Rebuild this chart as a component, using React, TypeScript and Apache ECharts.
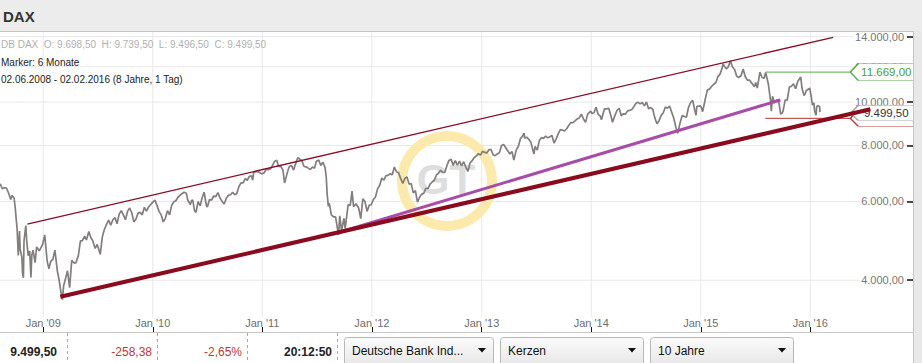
import React, { useEffect, useRef } from 'react';
import * as echarts from 'echarts';

// ---------- axis ranges ----------
const X_MIN = '2008-08-10';
const X_MAX = '2016-12-08';
const Y_TOP = 14343;
const Y_BOTTOM = 3311;
const Y_TICKS = [4000, 6000, 8000, 10000, 12000, 14000];
const YEAR_TICKS = ['2009-01-01', '2010-01-01', '2011-01-01', '2012-01-01', '2013-01-01', '2014-01-01', '2015-01-01', '2016-01-01'];

// ---------- DAX price ----------
const DAX_2008: [string, number][] = [
  ['2008-08-01', 6480], ['2008-08-11', 6560], ['2008-08-18', 6400], ['2008-08-25', 6440], ['2008-09-01', 6420],
  ['2008-09-08', 6250], ['2008-09-15', 6060], ['2008-09-19', 6190], ['2008-09-26', 6100], ['2008-09-30', 5780],
  ['2008-10-06', 5200], ['2008-10-10', 4544], ['2008-10-14', 5150], ['2008-10-16', 4700], ['2008-10-22', 4500],
  ['2008-10-24', 4150], ['2008-10-27', 4050], ['2008-10-29', 4900], ['2008-11-04', 5300], ['2008-11-07', 4900],
  ['2008-11-12', 4540], ['2008-11-17', 4650], ['2008-11-21', 4060], ['2008-11-24', 4550], ['2008-11-28', 4670],
  ['2008-12-05', 4380], ['2008-12-10', 4750], ['2008-12-19', 4650], ['2008-12-30', 4810],
];
const DAX_2009: [string, number][] = [
  ['2009-01-06', 5050], ['2009-01-14', 4420], ['2009-01-20', 4240], ['2009-01-26', 4410], ['2009-02-02', 4450],
  ['2009-02-09', 4670], ['2009-02-17', 4200], ['2009-02-23', 4000], ['2009-03-02', 3730], ['2009-03-06', 3620],
  ['2009-03-10', 3890], ['2009-03-17', 4050], ['2009-03-23', 4200], ['2009-03-30', 3850], ['2009-04-06', 4430],
  ['2009-04-14', 4370], ['2009-04-20', 4380], ['2009-04-28', 4540], ['2009-05-05', 4900], ['2009-05-11', 4900],
  ['2009-05-19', 5020], ['2009-05-25', 4920], ['2009-06-02', 5140], ['2009-06-08', 4990], ['2009-06-15', 4900],
  ['2009-06-23', 4710], ['2009-06-30', 4810], ['2009-07-10', 4570], ['2009-07-17', 5000], ['2009-07-24', 5200],
  ['2009-07-31', 5330], ['2009-08-07', 5450], ['2009-08-14', 5310], ['2009-08-21', 5460], ['2009-08-28', 5520],
  ['2009-09-04', 5350], ['2009-09-11', 5620], ['2009-09-18', 5720], ['2009-09-25', 5600], ['2009-10-02', 5460],
  ['2009-10-09', 5700], ['2009-10-16', 5800], ['2009-10-23', 5660], ['2009-10-30', 5400], ['2009-11-06', 5480],
  ['2009-11-13', 5650], ['2009-11-20', 5670], ['2009-11-27', 5600], ['2009-12-04', 5820], ['2009-12-11', 5710],
  ['2009-12-18', 5830], ['2009-12-30', 5957],
];
const DAX_2010: [string, number][] = [
  ['2010-01-08', 6040], ['2010-01-15', 5880], ['2010-01-22', 5700], ['2010-01-29', 5600], ['2010-02-05', 5400],
  ['2010-02-12', 5500], ['2010-02-19', 5720], ['2010-02-26', 5600], ['2010-03-05', 5880], ['2010-03-12', 5990],
  ['2010-03-19', 6020], ['2010-03-26', 6130], ['2010-04-09', 6250], ['2010-04-15', 6290], ['2010-04-23', 6260],
  ['2010-04-27', 6060], ['2010-05-06', 5900], ['2010-05-10', 6020], ['2010-05-14', 6050], ['2010-05-20', 5730],
  ['2010-05-25', 5670], ['2010-06-01', 5990], ['2010-06-08', 5870], ['2010-06-14', 6100], ['2010-06-21', 6290],
  ['2010-06-29', 5860], ['2010-07-02', 5830], ['2010-07-09', 6060], ['2010-07-16', 6040], ['2010-07-23', 6170],
  ['2010-07-30', 6150], ['2010-08-06', 6280], ['2010-08-13', 6110], ['2010-08-20', 6000], ['2010-08-27', 5920],
  ['2010-09-03', 6100], ['2010-09-10', 6190], ['2010-09-17', 6210], ['2010-09-24', 6290], ['2010-10-01', 6210],
  ['2010-10-08', 6250], ['2010-10-15', 6480], ['2010-10-22', 6600], ['2010-10-29', 6600], ['2010-11-05', 6750],
  ['2010-11-12', 6690], ['2010-11-19', 6830], ['2010-11-26', 6840], ['2010-11-30', 6690], ['2010-12-03', 6950],
  ['2010-12-10', 6990], ['2010-12-17', 7000], ['2010-12-30', 6914],
];
const DAX_2011: [string, number][] = [
  ['2011-01-07', 6950], ['2011-01-14', 7080], ['2011-01-21', 7060], ['2011-01-28', 7100], ['2011-02-04', 7220],
  ['2011-02-11', 7370], ['2011-02-18', 7420], ['2011-02-24', 7180], ['2011-03-04', 7180], ['2011-03-11', 7040],
  ['2011-03-16', 6600], ['2011-03-18', 6660], ['2011-03-25', 6950], ['2011-04-01', 7180], ['2011-04-08', 7220],
  ['2011-04-15', 7050], ['2011-04-21', 7250], ['2011-04-29', 7510], ['2011-05-06', 7460], ['2011-05-13', 7390],
  ['2011-05-20', 7180], ['2011-05-27', 7170], ['2011-06-03', 7120], ['2011-06-10', 7070], ['2011-06-17', 7160],
  ['2011-06-24', 7120], ['2011-06-30', 7380], ['2011-07-08', 7420], ['2011-07-15', 7220], ['2011-07-22', 7340],
  ['2011-07-29', 7150], ['2011-08-02', 6800], ['2011-08-05', 6240], ['2011-08-09', 5850], ['2011-08-12', 5950],
  ['2011-08-19', 5600], ['2011-08-26', 5540], ['2011-09-02', 5540], ['2011-09-09', 5190], ['2011-09-12', 5050],
  ['2011-09-16', 5570], ['2011-09-22', 5160], ['2011-09-30', 5500], ['2011-10-04', 5220], ['2011-10-14', 5900],
  ['2011-10-21', 5880], ['2011-10-27', 6330], ['2011-11-01', 5840], ['2011-11-09', 5930], ['2011-11-18', 5800],
  ['2011-11-25', 5490], ['2011-12-02', 6080], ['2011-12-09', 6000], ['2011-12-16', 5700], ['2011-12-23', 5880],
  ['2011-12-30', 5898],
];
const DAX_2012: [string, number][] = [
  ['2012-01-06', 6060], ['2012-01-13', 6140], ['2012-01-20', 6400], ['2012-01-27', 6510], ['2012-02-03', 6770],
  ['2012-02-10', 6690], ['2012-02-17', 6850], ['2012-02-24', 6860], ['2012-03-02', 6920], ['2012-03-09', 6880],
  ['2012-03-16', 7160], ['2012-03-23', 6990], ['2012-03-30', 6950], ['2012-04-05', 6780], ['2012-04-13', 6580],
  ['2012-04-20', 6760], ['2012-04-27', 6800], ['2012-05-04', 6560], ['2012-05-11', 6580], ['2012-05-18', 6270],
  ['2012-05-25', 6340], ['2012-06-01', 5980], ['2012-06-08', 6130], ['2012-06-15', 6230], ['2012-06-22', 6260],
  ['2012-06-29', 6420], ['2012-07-06', 6410], ['2012-07-13', 6560], ['2012-07-20', 6630], ['2012-07-27', 6690],
  ['2012-08-03', 6870], ['2012-08-10', 6940], ['2012-08-17', 7040], ['2012-08-24', 6970], ['2012-08-31', 6970],
  ['2012-09-07', 7210], ['2012-09-14', 7410], ['2012-09-21', 7450], ['2012-09-28', 7220], ['2012-10-05', 7400],
  ['2012-10-12', 7230], ['2012-10-19', 7380], ['2012-10-26', 7200], ['2012-11-02', 7360], ['2012-11-09', 7160],
  ['2012-11-16', 7000], ['2012-11-23', 7310], ['2012-11-30', 7400], ['2012-12-07', 7520], ['2012-12-14', 7580],
  ['2012-12-21', 7670], ['2012-12-28', 7612],
];
const DAX_2013: [string, number][] = [
  ['2013-01-04', 7770], ['2013-01-11', 7720], ['2013-01-18', 7700], ['2013-01-25', 7830], ['2013-02-01', 7830],
  ['2013-02-08', 7630], ['2013-02-15', 7590], ['2013-02-22', 7660], ['2013-03-01', 7710], ['2013-03-08', 8000],
  ['2013-03-15', 8040], ['2013-03-22', 7910], ['2013-03-28', 7800], ['2013-04-05', 7660], ['2013-04-12', 7750],
  ['2013-04-18', 7420], ['2013-04-26', 7810], ['2013-05-03', 7960], ['2013-05-10', 8280], ['2013-05-17', 8400],
  ['2013-05-22', 8530], ['2013-05-24', 8310], ['2013-05-31', 8350], ['2013-06-07', 8250], ['2013-06-14', 8130],
  ['2013-06-21', 7790], ['2013-06-24', 7660], ['2013-06-28', 7960], ['2013-07-05', 7810], ['2013-07-12', 8210],
  ['2013-07-19', 8330], ['2013-07-26', 8300], ['2013-08-02', 8400], ['2013-08-09', 8320], ['2013-08-16', 8370],
  ['2013-08-23', 8420], ['2013-08-30', 8100], ['2013-09-06', 8280], ['2013-09-13', 8500], ['2013-09-20', 8680],
  ['2013-09-27', 8660], ['2013-10-04', 8620], ['2013-10-11', 8720], ['2013-10-18', 8870], ['2013-10-25', 9000],
  ['2013-11-01', 9000], ['2013-11-08', 9080], ['2013-11-15', 9170], ['2013-11-22', 9220], ['2013-11-29', 9400],
  ['2013-12-06', 9170], ['2013-12-13', 9010], ['2013-12-20', 9400], ['2013-12-30', 9552],
];
const DAX_2014: [string, number][] = [
  ['2014-01-03', 9430], ['2014-01-10', 9470], ['2014-01-17', 9740], ['2014-01-24', 9390], ['2014-01-31', 9310],
  ['2014-02-04', 9130], ['2014-02-07', 9290], ['2014-02-14', 9660], ['2014-02-21', 9660], ['2014-02-28', 9690],
  ['2014-03-07', 9350], ['2014-03-13', 9020], ['2014-03-14', 9060], ['2014-03-21', 9340], ['2014-03-28', 9590],
  ['2014-04-04', 9690], ['2014-04-11', 9320], ['2014-04-17', 9410], ['2014-04-25', 9400], ['2014-05-02', 9560],
  ['2014-05-09', 9580], ['2014-05-16', 9630], ['2014-05-23', 9770], ['2014-05-30', 9940], ['2014-06-06', 9990],
  ['2014-06-13', 9910], ['2014-06-20', 9990], ['2014-06-27', 9810], ['2014-07-04', 10010], ['2014-07-11', 9670],
  ['2014-07-18', 9720], ['2014-07-25', 9640], ['2014-08-01', 9210], ['2014-08-08', 8950], ['2014-08-15', 9090],
  ['2014-08-22', 9340], ['2014-08-29', 9470], ['2014-09-05', 9750], ['2014-09-12', 9690], ['2014-09-19', 9800],
  ['2014-09-26', 9490], ['2014-10-03', 9200], ['2014-10-10', 8790], ['2014-10-16', 8520], ['2014-10-24', 8990],
  ['2014-10-31', 9330], ['2014-11-07', 9290], ['2014-11-14', 9250], ['2014-11-21', 9730], ['2014-11-28', 9980],
  ['2014-12-05', 10090], ['2014-12-12', 9590], ['2014-12-16', 9340], ['2014-12-19', 9790], ['2014-12-30', 9806],
];
const DAX_2015: [string, number][] = [
  ['2015-01-02', 9760], ['2015-01-07', 9520], ['2015-01-09', 9650], ['2015-01-16', 10170], ['2015-01-23', 10650],
  ['2015-01-30', 10690], ['2015-02-06', 10850], ['2015-02-13', 10960], ['2015-02-20', 11050], ['2015-02-27', 11400],
  ['2015-03-06', 11550], ['2015-03-13', 11900], ['2015-03-16', 12170], ['2015-03-20', 12040], ['2015-03-27', 11870],
  ['2015-04-02', 11970], ['2015-04-10', 12370], ['2015-04-16', 11990], ['2015-04-24', 11810], ['2015-04-30', 11450],
  ['2015-05-07', 11350], ['2015-05-15', 11450], ['2015-05-22', 11860], ['2015-05-29', 11410], ['2015-06-05', 11200],
  ['2015-06-12', 11200], ['2015-06-19', 11040], ['2015-06-29', 10830], ['2015-07-03', 11060], ['2015-07-08', 10750],
  ['2015-07-17', 11670], ['2015-07-24', 11350], ['2015-07-31', 11310], ['2015-08-05', 11650], ['2015-08-14', 10980],
  ['2015-08-21', 10120], ['2015-08-24', 9550], ['2015-08-28', 10300], ['2015-09-04', 9960], ['2015-09-11', 10120],
  ['2015-09-18', 10000], ['2015-09-24', 9400], ['2015-09-29', 9450], ['2015-10-02', 9550], ['2015-10-09', 10100],
  ['2015-10-16', 10100], ['2015-10-23', 10800], ['2015-10-30', 10850], ['2015-11-06', 10990], ['2015-11-13', 10710],
  ['2015-11-20', 11120], ['2015-11-30', 11380], ['2015-12-04', 10750], ['2015-12-11', 10340], ['2015-12-15', 10450],
  ['2015-12-18', 10600], ['2015-12-30', 10743],
];
const DAX_2016: [string, number][] = [
  ['2016-01-04', 10280], ['2016-01-08', 9850], ['2016-01-13', 9960], ['2016-01-15', 9550], ['2016-01-20', 9350],
  ['2016-01-22', 9760], ['2016-01-26', 9820], ['2016-01-29', 9800], ['2016-02-01', 9760], ['2016-02-02', 9499.5],
];

// ---------- drawn trend lines & levels ----------
const UPPER_CHANNEL: [string, number][] = [['2008-11-09', 5340], ['2016-03-17', 13960]];
const LOWER_CHANNEL: [string, number][] = [['2009-02-27', 3675], ['2016-07-19', 9640]];
const PURPLE_TREND: [string, number][] = [['2011-08-26', 5075], ['2015-09-23', 10110]];
const LEVEL_START = '2015-08-04';
const TAG_DATE = '2016-05-13';
const RESISTANCE = 11669;
const SUPPORT = 9200;
const LAST_PRICE = 9499.5;

// ---------- info texts ----------
const INFO_OHLC = 'DB DAX  O: 9.698,50  H: 9.739,50  L: 9.496,50  C: 9.499,50';
const INFO_MARKER = 'Marker: 6 Monate';
const INFO_RANGE = '02.06.2008 - 02.02.2016 (8 Jahre, 1 Tag)';
const FOOT_VALUES = ['9.499,50', '-258,38', '-2,65%', '20:12:50'];
const BUTTONS = ['Deutsche Bank Ind...', 'Kerzen', '10 Jahre'];

const L = (v: number) => Math.log10(v);
const T = (s: string) => Date.parse(s + 'T00:00:00Z');
const fmtDE = (v: number) => {
  const [i, d] = v.toFixed(2).split('.');
  return i.replace(/\B(?=(\d{3})+(?!\d))/g, '.') + ',' + d;
};
const toXY = (arr: [string, number][]) => arr.map(([d, v]) => [T(d), L(v)]);

const FONT = 'Arial, "Liberation Sans", sans-serif';
const TAG_PATH = 'path://M0 8 L8 0 L64 0 L64 16 L8 16 Z';

export default function App() {
  const ref = useRef<HTMLDivElement>(null);
  useEffect(() => {
    if (!ref.current) return;
    const chart = echarts.init(ref.current, undefined, { renderer: 'svg' });
    const price = [...DAX_2008, ...DAX_2009, ...DAX_2010, ...DAX_2011, ...DAX_2012, ...DAX_2013, ...DAX_2014, ...DAX_2015, ...DAX_2016];
    const xMin = T(X_MIN);
    const xMax = T(X_MAX);
    const yMin = L(Y_BOTTOM);
    const yMax = L(Y_TOP);
    const yearTicks = YEAR_TICKS.map(T);
    const yTicks = Y_TICKS.map(L);

    const gridSeries: any[] = [
      ...Y_TICKS.map((v) => ({
        type: 'line', z: 0, silent: true, symbol: 'none',
        data: [[xMin, L(v)], [xMax, L(v)]],
        lineStyle: { color: '#e8e8e8', width: 1 },
      })),
      ...yearTicks.map((t) => ({
        type: 'line', z: 0, silent: true, symbol: 'none',
        data: [[t, yMin], [t, yMax]],
        lineStyle: { color: '#e8e8e8', width: 1 },
      })),
    ];

    const tag = (date: string, value: number, text: string | null, border: string, color: string, z: number, h: number, dy: number) => ({
      type: 'scatter', z, silent: true,
      data: [[T(date), L(value)]],
      symbol: TAG_PATH, symbolSize: [64, h], symbolOffset: [32, dy],
      itemStyle: { color: '#fff', borderColor: border, borderWidth: 1, opacity: 1 },
      label: text
        ? { show: true, position: 'inside', offset: [4, 0], formatter: text, color, fontSize: 11.5, fontFamily: FONT }
        : { show: false },
    });

    const buttons: any[] = [];
    const btnX = [344.5, 500.5, 650.5];
    const btnW = [149, 143, 143];
    BUTTONS.forEach((b, i) => {
      buttons.push({
        type: 'rect', z: 100, shape: { x: btnX[i], y: 337.5, width: btnW[i], height: 32, r: 3 },
        style: {
          fill: new echarts.graphic.LinearGradient(0, 0, 0, 1, [{ offset: 0, color: '#fbfbfb' }, { offset: 1, color: '#e4e4e4' }]),
          stroke: '#b8b8b8', lineWidth: 1,
        },
      });
      buttons.push({
        type: 'text', z: 101, x: btnX[i] + 7.5, y: 351,
        style: { text: b, fill: '#111', font: `12px ${FONT}`, verticalAlign: 'middle', align: 'left' },
      });
      const ax = btnX[i] + btnW[i] - 11.5;
      buttons.push({
        type: 'polygon', z: 101, shape: { points: [[ax - 4, 348], [ax + 4, 348], [ax, 352.5]] }, style: { fill: '#111' },
      });
    });

    const footRight = [57, 152, 242, 332];
    const footColors = ['#222', '#b83a3a', '#b83a3a', '#222'];
    const footBold = [true, false, false, true];
    const foot: any[] = FOOT_VALUES.map((t, i) => ({
      type: 'text', z: 100, x: footRight[i], y: 352,
      style: { text: t, fill: footColors[i], font: `${footBold[i] ? 'bold ' : ''}12px ${FONT}`, align: 'right', verticalAlign: 'middle' },
    }));
    [67.5, 157.5, 247.5, 337.5].forEach((x) => {
      foot.push({ type: 'line', z: 100, shape: { x1: x, y1: 333, x2: x, y2: 363 }, style: { stroke: '#a8a8a8', lineWidth: 1, lineDash: [3, 3] } });
    });

    chart.setOption({
      animation: false,
      backgroundColor: '#fff',
      grid: { left: 0, right: 9, top: 32, bottom: 46 },
      xAxis: [
        {
          type: 'value', min: xMin, max: xMax,
          axisLine: { show: false }, axisTick: { show: false }, splitLine: { show: false },
          axisLabel: {
            customValues: yearTicks, margin: 0, color: '#6e6e6e', fontSize: 11, fontFamily: FONT,
            formatter: (v: number) => "Jan '" + String(new Date(v).getUTCFullYear()).slice(2),
          },
        },
        {
          type: 'value', min: xMin, max: xMax, position: 'bottom', offset: 15,
          axisLine: { show: false }, splitLine: { show: false }, axisLabel: { show: false },
          axisTick: { show: true, inside: true, length: 5, customValues: yearTicks, lineStyle: { color: '#111', width: 1 } },
        },
      ],
      yAxis: {
        type: 'value', min: yMin, max: yMax, position: 'right', z: 1,
        axisLine: { show: false }, splitLine: { show: false },
        axisTick: { show: true, inside: true, length: 6, customValues: yTicks, lineStyle: { color: '#111', width: 1.5 } },
        axisLabel: {
          inside: true, margin: 8, customValues: yTicks, color: '#777', fontSize: 11, fontFamily: FONT,
          backgroundColor: '#fff', padding: [0, 1],
          formatter: (v: number) => fmtDE(Math.round(Math.pow(10, v))),
        },
      },
      series: [
        ...gridSeries,
        {
          type: 'line', name: 'DAX', z: 2, symbol: 'none', data: toXY(price),
          lineStyle: { color: '#837e7d', width: 1.7 },
        },
        { type: 'line', z: 3, symbol: 'none', data: toXY(PURPLE_TREND), lineStyle: { color: '#a94ca9', width: 3 } },
        { type: 'line', z: 3, symbol: 'none', data: toXY(UPPER_CHANNEL), lineStyle: { color: '#8b0d26', width: 1.3 } },
        {
          type: 'line', z: 3, symbol: 'none', data: toXY([[LEVEL_START, RESISTANCE], [TAG_DATE, RESISTANCE]]),
          lineStyle: { color: '#5aab4a', width: 1 },
        },
        {
          type: 'line', z: 3, symbol: 'none', data: toXY([[LEVEL_START, SUPPORT], [TAG_DATE, SUPPORT]]),
          lineStyle: { color: '#b83232', width: 1 },
        },
        tag(TAG_DATE, RESISTANCE, fmtDE(RESISTANCE), '#5aab4a', '#4a9d3b', 4, 17, 0),
        tag(TAG_DATE, SUPPORT, null, '#c03a3a', '#c03a3a', 4, 16, 0),
        tag(TAG_DATE, LAST_PRICE, fmtDE(LAST_PRICE), '#aaaaaa', '#333', 5, 15, 1),
        { type: 'line', z: 6, symbol: 'none', data: toXY(LOWER_CHANNEL), lineStyle: { color: '#8a0a1e', width: 4 } },
      ],
      graphic: [
        { type: 'ring', z: -1, shape: { cx: 447, cy: 181, r: 50, r0: 40 }, style: { fill: '#fbeaac' } },
        { type: 'text', z: -1, x: 446, y: 179, style: { text: 'GT', fill: '#dedede', font: `bold 42px ${FONT}`, align: 'center', verticalAlign: 'middle' } },
        { type: 'rect', z: 100, shape: { x: 0, y: 0, width: 922, height: 31 }, style: { fill: '#ececec' } },
        { type: 'line', z: 100, shape: { x1: 0, y1: 31.5, x2: 914, y2: 31.5 }, style: { stroke: '#c6c6c6', lineWidth: 1 } },
        { type: 'text', z: 101, x: 3, y: 16, style: { text: 'DAX', fill: '#333', font: `bold 15px ${FONT}`, verticalAlign: 'middle' } },
        { type: 'rect', z: 100, shape: { x: 914, y: 31, width: 8, height: 332 }, style: { fill: '#e8e8e8' } },
        { type: 'line', z: 100, shape: { x1: 913.5, y1: 31, x2: 913.5, y2: 363 }, style: { stroke: '#c6c6c6', lineWidth: 1 } },
        { type: 'rect', z: 99, shape: { x: 0, y: 333, width: 913, height: 30 }, style: { fill: '#fff' } },
        { type: 'line', z: 100, shape: { x1: 0, y1: 332.5, x2: 913, y2: 332.5 }, style: { stroke: '#c6c6c6', lineWidth: 1 } },
        ...foot,
        ...buttons,
        { type: 'text', z: 50, x: 1, y: 44, style: { text: INFO_OHLC, fill: '#b0b0b0', font: `10px ${FONT}`, verticalAlign: 'middle' } },
        { type: 'text', z: 50, x: 1, y: 62, style: { text: INFO_MARKER, fill: '#222', font: `10px ${FONT}`, verticalAlign: 'middle' } },
        { type: 'text', z: 50, x: 1, y: 79, style: { text: INFO_RANGE, fill: '#222', font: `10px ${FONT}`, verticalAlign: 'middle' } },
      ],
    });
    return () => chart.dispose();
  }, []);
  return <div ref={ref} style={{ position: 'fixed', left: 0, top: 0, width: 922, height: 363 }} />;
}
